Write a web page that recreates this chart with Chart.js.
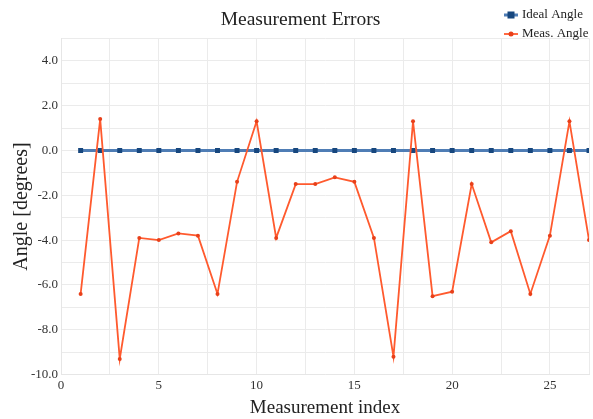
<!DOCTYPE html>
<html>
<head>
<meta charset="utf-8">
<script src="https://cdn.jsdelivr.net/npm/chart.js@4/dist/chart.umd.min.js"></script>
<style>
  html, body { margin: 0; padding: 0; background: #ffffff; }
  #wrap { width: 593px; height: 419px; }
</style>
</head>
<body>
<div id="wrap"><canvas id="c" width="593" height="419"></canvas></div>
<script>
// Measurement indices and angles (degrees)
const measIndex = [1, 2, 3, 4, 5, 6, 7, 8, 9, 10, 11, 12, 13, 14, 15, 16, 17, 18, 19, 20, 21, 22, 23, 24, 25, 26, 27];
const idealAngle = [0, 0, 0, 0, 0, 0, 0, 0, 0, 0, 0, 0, 0, 0, 0, 0, 0, 0, 0, 0, 0, 0, 0, 0, 0, 0, 0];
const measAngle = [-6.4, 1.4, -9.3, -3.9, -4.0, -3.7, -3.8, -6.4, -1.4, 1.3, -3.9, -1.5, -1.5, -1.2, -1.4, -3.9, -9.2, 1.3, -6.5, -6.3, -1.5, -4.1, -3.6, -6.4, -3.8, 1.3, -4.0];
const seriesNames = ['Ideal Angle', 'Meas. Angle'];

const SERIF = "'Liberation Serif', 'DejaVu Serif', serif";

const toPoints = (xs, ys) => xs.map((x, i) => ({ x: x, y: ys[i] }));

// Two-row legend drawn in the top-right corner beside the title
const cornerLegend = {
  id: 'cornerLegend',
  afterDraw(chart) {
    const ctx = chart.ctx;
    const x0 = 504, rows = [15, 34];
    ctx.save();
    chart.data.datasets.forEach((ds, i) => {
      const y = rows[i];
      ctx.strokeStyle = ds.borderColor;
      ctx.lineWidth = ds.borderWidth;
      ctx.beginPath();
      ctx.moveTo(x0, y);
      ctx.lineTo(x0 + 14, y);
      ctx.stroke();
      ctx.fillStyle = ds.pointBackgroundColor;
      if (ds.pointStyle === 'rect') {
        ctx.fillRect(x0 + 3.5, y - 3.5, 7, 7);
      } else {
        ctx.beginPath();
        ctx.arc(x0 + 7, y, 2.5, 0, Math.PI * 2);
        ctx.fill();
      }
      ctx.fillStyle = '#222';
      ctx.font = '13px ' + SERIF;
      ctx.textBaseline = 'middle';
      ctx.textAlign = 'left';
      ctx.fillText(ds.label, x0 + 18, y);
    });
    ctx.restore();
  }
};

new Chart(document.getElementById('c'), {
  type: 'line',
  data: {
    datasets: [
      {
        label: seriesNames[0],
        data: toPoints(measIndex, idealAngle),
        borderColor: '#4f7db5',
        borderWidth: 3,
        pointStyle: 'rect',
        pointRadius: 3.5,
        pointBackgroundColor: '#17477e',
        pointBorderColor: '#17477e',
        pointBorderWidth: 0,
        tension: 0,
        order: 2
      },
      {
        label: seriesNames[1],
        data: toPoints(measIndex, measAngle),
        borderColor: '#ff5a2e',
        borderWidth: 1.8,
        pointStyle: 'circle',
        pointRadius: 2,
        pointBackgroundColor: '#e8401a',
        pointBorderColor: '#e8401a',
        pointBorderWidth: 0,
        tension: 0,
        order: 1
      }
    ]
  },
  options: {
    responsive: false,
    animation: false,
    devicePixelRatio: 1,
    layout: { padding: { left: 10, right: 2, top: 0, bottom: 0 } },
    plugins: {
      legend: { display: false },
      tooltip: { enabled: false },
      title: {
        display: true,
        text: 'Measurement Errors',
        color: '#222',
        font: { family: SERIF, size: 19.5, weight: 'normal' },
        padding: { top: 8, bottom: 7 }
      }
    },
    scales: {
      x: {
        type: 'linear',
        min: 0,
        max: 27,
        grid: { color: '#ebebeb', lineWidth: 1, drawTicks: false },
        border: { color: '#e6e6e6' },
        ticks: {
          stepSize: 2.5,
          autoSkip: false,
          maxRotation: 0,
          padding: 3,
          color: '#333',
          font: { family: SERIF, size: 13 },
          callback: v => (Math.abs(v % 5) < 1e-9 ? String(v) : '')
        },
        title: {
          display: true,
          text: 'Measurement index',
          color: '#222',
          font: { family: SERIF, size: 19 },
          padding: { top: 0, bottom: 0 }
        }
      },
      y: {
        min: -10,
        max: 5,
        grid: { color: '#ebebeb', lineWidth: 1, drawTicks: false },
        border: { color: '#e6e6e6' },
        ticks: {
          stepSize: 1,
          autoSkip: false,
          padding: 3,
          color: '#333',
          font: { family: SERIF, size: 13 },
          callback: v => (Math.abs(v % 2) < 1e-9 ? v.toFixed(1) : '')
        },
        title: {
          display: true,
          text: 'Angle [degrees]',
          color: '#222',
          font: { family: SERIF, size: 20 },
          padding: { top: 0, bottom: -6 }
        }
      }
    }
  },
  plugins: [cornerLegend]
});
</script>
</body>
</html>
